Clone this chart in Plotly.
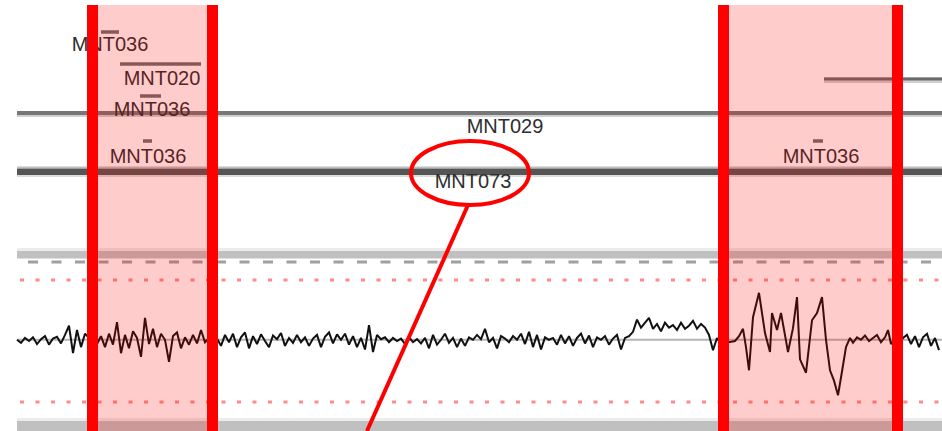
import plotly.graph_objects as go

# ---------------- data ----------------
# gene track (positions in view columns along the genome axis)
gene_names = ["MNT036", "MNT020", "", "MNT036", "MNT029", "MNT036", "MNT036", "MNT073"]
gene_start = [101, 120, 824, 140, 17, 143, 813, 17]
gene_end = [119, 201, 942, 161, 942, 152, 823, 942]
gene_lane = [0, 1, 2, 3, 4, 5, 5, 6]
label_pos = [110, 162, None, 152, 505, 148, 821, 473]

# highlighted regions (start, end)
region_start = [87, 718]
region_end = [218, 903]

# copy-number style signal (log ratio), sampled in segments
seg1_start, seg1_step = 17, 4
seg1 = [0.02, -0.03, 0.05, 0.0, 0.06, -0.05, 0.03, 0.08, -0.06, 0.04, 0.07, -0.04,
        0.10, 0.25, -0.20, 0.18, -0.10, 0.12]
seg2_start, seg2_step = 89, 4
seg2 = [0.05, 0.10, -0.05, 0.08, -0.10, 0.12, -0.06, 0.31, -0.20, 0.10, -0.12, 0.16,
        0.05, -0.26, 0.38, -0.05, 0.20, -0.10, 0.12, 0.02, -0.34, 0.08, 0.14, -0.12,
        0.06, -0.06, 0.10, -0.04, 0.18, -0.02, 0.05, -0.03]
seg3_start, seg3_step = 217, 4
seg3 = [0.04, -0.08, 0.10, -0.02, 0.12, -0.10, 0.06, 0.14, -0.12, 0.08, -0.05, 0.11,
        0.00, -0.10, 0.09, 0.03, 0.13, -0.08, 0.05, -0.03, 0.10, -0.02, 0.06, -0.08,
        0.04, 0.10, -0.10, 0.07, 0.14, -0.04, 0.11, 0.02, 0.12, -0.06, 0.08, -0.10,
        0.05, -0.14, 0.26, -0.18, 0.10, 0.03, 0.06, -0.02, 0.05, 0.00, 0.04, -0.05,
        0.06, -0.02, 0.03, -0.04, 0.05, -0.12, 0.10, -0.06, 0.02, 0.12, -0.03, 0.05,
        -0.10, 0.04, -0.08, 0.06, 0.02, 0.10, 0.03, 0.20, -0.02, 0.05, -0.12, 0.08,
        0.04, -0.02, 0.08, 0.02, 0.12, -0.05, 0.15, -0.10, 0.10, -0.14, 0.06, 0.02,
        0.05, -0.06, 0.10, -0.04, 0.08, -0.08, 0.05, 0.12, -0.04, 0.09, -0.10, 0.06,
        0.02, 0.08, -0.06, 0.04, 0.10, -0.14, 0.05, 0.08]
seg4_start, seg4_step = 633, 4
seg4 = [0.15, 0.35, 0.22, 0.30, 0.38, 0.20, 0.28, 0.16, 0.30, 0.22, 0.26, 0.18,
        0.30, 0.20, 0.25, 0.33, 0.20, 0.28, 0.22, 0.10, -0.15, 0.05, -0.05, 0.06]
seg5_pos = [729, 735, 739, 743, 746, 749, 753, 759, 765, 770, 772, 777, 781, 788,
            793, 797, 800, 806, 812, 817, 822, 826, 830, 834, 838, 842, 846, 850,
            853, 857, 861, 865, 869, 873, 877, 881, 885, 888, 891]
seg5 = [-0.02, 0.00, 0.08, 0.20, -0.10, -0.48, 0.39, 0.79, 0.13, -0.18, 0.46, 0.18,
        0.46, -0.18, 0.21, 0.72, -0.30, -0.52, 0.34, 0.46, 0.72, 0.02, -0.48, -0.65,
        -0.89, -0.50, -0.10, 0.05, -0.03, 0.06, 0.02, 0.09, 0.00, 0.05, 0.10, -0.02,
        0.06, 0.18, -0.05]
seg6_start, seg6_step = 895, 4
seg6 = [0.04, -0.06, 0.05, 0.10, -0.05, 0.08, -0.10, 0.06, 0.12, -0.08, 0.05, -0.15]

thresholds = [1.0, -1.0]

# ---------------- build ----------------
sig_x, sig_y = [], []
for start, step, vals in [(seg1_start, seg1_step, seg1), (seg2_start, seg2_step, seg2),
                          (seg3_start, seg3_step, seg3), (seg4_start, seg4_step, seg4)]:
    sig_x += [start + step * i for i in range(len(vals))]
    sig_y += vals
sig_x += seg5_pos
sig_y += seg5
sig_x += [seg6_start + seg6_step * i for i in range(len(seg6))]
sig_y += seg6

# layout constants (track panel in pixel-like track units)
W, H = 942, 431
lane_y = [32, 64, 79, 96, 113, 141, 172]
label_off = [14, 16, 0, 15, 15, 17, 11]
lane_width = [3.5, 3.5, 3, 3.5, 4, 3.5, 6]
lane_color = ["#6e6e6e", "#6e6e6e", "#6a6a6a", "#6e6e6e", "#777777", "#6e6e6e", "#555555"]
FONT = "Liberation Sans, Arial, sans-serif"

fig = go.Figure()

# gene bars
for i in range(len(gene_names)):
    ln = gene_lane[i]
    if ln == 6:  # thick main gene: halo
        fig.add_trace(go.Scatter(x=[gene_start[i], gene_end[i]], y=[lane_y[ln] - 0.5] * 2,
                                 mode="lines", line=dict(color="#dcdcdc", width=11),
                                 hoverinfo="skip", showlegend=False))
        fig.add_trace(go.Scatter(x=[gene_start[i], gene_end[i]], y=[lane_y[ln] - 1.5] * 2,
                                 mode="lines", line=dict(color="#a0a0a0", width=6),
                                 hoverinfo="skip", showlegend=False))
    elif ln in (4, 2):
        fig.add_trace(go.Scatter(x=[gene_start[i], gene_end[i]], y=[lane_y[ln] + 1] * 2,
                                 mode="lines", line=dict(color="#d0d0d0", width=6),
                                 hoverinfo="skip", showlegend=False))
    fig.add_trace(go.Scatter(x=[gene_start[i], gene_end[i]], y=[lane_y[ln]] * 2,
                             mode="lines", line=dict(color=lane_color[ln], width=lane_width[ln]),
                             hoverinfo="skip", showlegend=False))

# gene labels
lx, ly, lt = [], [], []
for i in range(len(gene_names)):
    if gene_names[i] and label_pos[i] is not None:
        ln = gene_lane[i]
        lx.append(label_pos[i])
        ly.append(lane_y[ln] + label_off[ln])
        lt.append(gene_names[i])
fig.add_trace(go.Scatter(x=lx, y=ly, text=lt, mode="text",
                         textfont=dict(family=FONT, size=20, color="#2e2e2e"),
                         textposition="middle center", hoverinfo="skip", showlegend=False))

# signal
fig.add_trace(go.Scatter(x=sig_x, y=sig_y, yaxis="y2", mode="lines",
                         line=dict(color="#111111", width=2),
                         hoverinfo="skip", showlegend=False))

shapes = []
# signal panel frame bands
for y0, y1, c in [(248, 251, "#ececec"), (251, 258.5, "#c0c0c0"),
                  (418, 421, "#ececec"), (421, 431, "#c0c0c0")]:
    shapes.append(dict(type="rect", xref="x", yref="y", x0=17, x1=W, y0=y0, y1=y1,
                       fillcolor=c, line=dict(width=0), layer="below"))
shapes.append(dict(type="line", xref="x", yref="y", x0=28, x1=W, y0=262, y1=262,
                   line=dict(color="#a0a0a0", width=3, dash="10px,13.5px"), layer="below"))
# baseline and thresholds
shapes.append(dict(type="line", xref="x", yref="y2", x0=17, x1=W, y0=0.02, y1=0.02,
                   line=dict(color="#b4b4b4", width=2), layer="below"))
for t in thresholds:
    shapes.append(dict(type="line", xref="x", yref="y2", x0=20, x1=W, y0=t, y1=t,
                       line=dict(color="#ff8a8a", width=3, dash="4px,11.5px"), layer="below"))

# highlighted regions
for a, b in zip(region_start, region_end):
    shapes.append(dict(type="rect", xref="x", yref="y", x0=a + 5.5, x1=b - 5.5, y0=5, y1=H,
                       fillcolor="rgba(255,0,0,0.2)", line=dict(width=0), layer="above"))
    for xe in (a + 5.5, b - 5.5):
        shapes.append(dict(type="line", xref="x", yref="y", x0=xe, x1=xe, y0=5, y1=H,
                           line=dict(color="#ff0000", width=11), layer="above"))

# callout ellipse on MNT073 with pointer
shapes.append(dict(type="circle", xref="x", yref="y", x0=411, x1=529, y0=141, y1=205,
                   line=dict(color="#ff0000", width=4), layer="above"))
shapes.append(dict(type="line", xref="x", yref="y", x0=468, y0=205, x1=367, y1=H,
                   line=dict(color="#ff0000", width=4), layer="above"))

fig.update_layout(
    width=W, height=H, margin=dict(l=0, r=0, t=0, b=0),
    paper_bgcolor="white", plot_bgcolor="white",
    xaxis=dict(range=[0, W], visible=False, fixedrange=True),
    yaxis=dict(range=[H, 0], visible=False, fixedrange=True),
    yaxis2=dict(range=[-1.4754, 5.5902], overlaying="y", visible=False, fixedrange=True),
    shapes=shapes,
    showlegend=False,
)

fig.write_html("out.html", config={"displayModeBar": False})
